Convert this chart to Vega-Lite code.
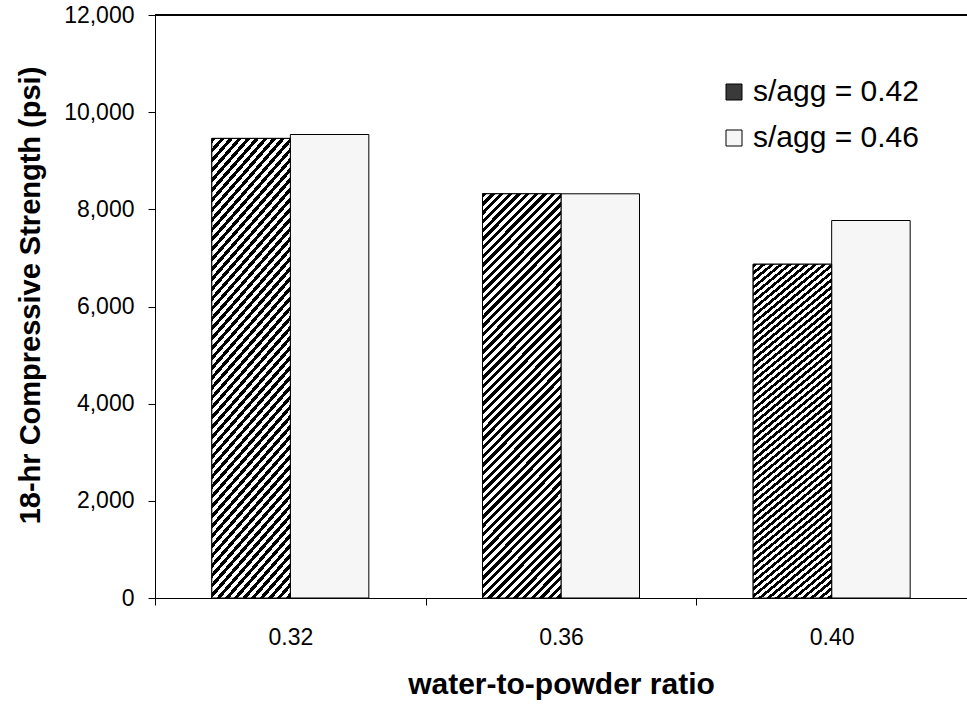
{
  "$schema": "https://vega.github.io/schema/vega-lite/v6.json",
  "width": 812,
  "height": 583,
  "autosize": {"type": "none"},
  "padding": {"left": 155, "top": 15, "right": 0, "bottom": 108},
  "background": "white",
  "config": {"view": {"stroke": null}, "font": "Liberation Sans"},
  "data": {"values": [
    {"ratio": "0.32", "series": "s/agg = 0.42", "strength": 9460},
    {"ratio": "0.32", "series": "s/agg = 0.46", "strength": 9540},
    {"ratio": "0.36", "series": "s/agg = 0.42", "strength": 8320},
    {"ratio": "0.36", "series": "s/agg = 0.46", "strength": 8320},
    {"ratio": "0.40", "series": "s/agg = 0.42", "strength": 6870},
    {"ratio": "0.40", "series": "s/agg = 0.46", "strength": 7770}
  ]},
  "layer": [
    {
      "mark": {"type": "bar", "stroke": "black", "strokeWidth": 1},
      "encoding": {
        "x": {"field": "ratio", "type": "nominal", "scale": {"paddingInner": 0, "paddingOuter": 0},
          "axis": {"title": "water-to-powder ratio", "labelAngle": 0, "tickBand": "extent", "domainColor": "black", "tickColor": "black", "tickSize": 7, "labelFontSize": 23, "labelColor": "black", "labelPadding": 21, "titleFontSize": 30, "titleFontWeight": "bold", "titleColor": "black", "titleBaseline": "alphabetic", "titleY": 95}},
        "xOffset": {"field": "series", "type": "nominal", "scale": {"paddingInner": 0, "paddingOuter": 0.724}},
        "y": {"field": "strength", "type": "quantitative", "scale": {"domain": [0, 12000], "nice": false},
          "axis": {"title": "18-hr Compressive Strength (psi)", "values": [0, 2000, 4000, 6000, 8000, 10000, 12000], "format": ",d", "grid": false, "tickSize": 7, "labelFontSize": 23, "labelPadding": 14, "labelColor": "black", "domainColor": "black", "tickColor": "black", "titleFontSize": 29, "titleFontWeight": "bold", "titleColor": "black", "titleAngle": -90, "titleBaseline": "alphabetic", "titleX": -116, "titleY": 280}},
        "color": {"field": "series", "type": "nominal", "scale": {"range": ["#3a3a3a", "#f6f6f6"]},
          "legend": {"title": null, "orient": "none", "legendX": 564, "legendY": 62, "padding": 0, "symbolType": "square", "symbolSize": 256, "symbolStrokeColor": "black", "symbolStrokeWidth": 1, "symbolOpacity": 1, "labelFontSize": 30, "labelColor": "black", "labelOffset": 4, "rowPadding": 16, "labelLimit": 400}}
      }
    },
    {
      "transform": [{"filter": "datum.series == 's/agg = 0.42'"}],
      "mark": {"type": "bar", "stroke": "black", "strokeWidth": 1,
        "fill": {"gradient": "linear", "x1": 0, "y1": 0, "x2": 0.225, "y2": 1.151, "stops": [
          {"offset": 0, "color": "#000"},
          {"offset": 0.009, "color": "#000"}, {"offset": 0.009, "color": "#fff"},
          {"offset": 0.018, "color": "#fff"}, {"offset": 0.018, "color": "#000"},
          {"offset": 0.027, "color": "#000"}, {"offset": 0.027, "color": "#fff"},
          {"offset": 0.036, "color": "#fff"}, {"offset": 0.036, "color": "#000"},
          {"offset": 0.045, "color": "#000"}, {"offset": 0.045, "color": "#fff"},
          {"offset": 0.054, "color": "#fff"}, {"offset": 0.054, "color": "#000"},
          {"offset": 0.063, "color": "#000"}, {"offset": 0.063, "color": "#fff"},
          {"offset": 0.072, "color": "#fff"}, {"offset": 0.072, "color": "#000"},
          {"offset": 0.081, "color": "#000"}, {"offset": 0.081, "color": "#fff"},
          {"offset": 0.09, "color": "#fff"}, {"offset": 0.09, "color": "#000"},
          {"offset": 0.099, "color": "#000"}, {"offset": 0.099, "color": "#fff"},
          {"offset": 0.108, "color": "#fff"}, {"offset": 0.108, "color": "#000"},
          {"offset": 0.117, "color": "#000"}, {"offset": 0.117, "color": "#fff"},
          {"offset": 0.126, "color": "#fff"}, {"offset": 0.126, "color": "#000"},
          {"offset": 0.135, "color": "#000"}, {"offset": 0.135, "color": "#fff"},
          {"offset": 0.144, "color": "#fff"}, {"offset": 0.144, "color": "#000"},
          {"offset": 0.153, "color": "#000"}, {"offset": 0.153, "color": "#fff"},
          {"offset": 0.162, "color": "#fff"}, {"offset": 0.162, "color": "#000"},
          {"offset": 0.171, "color": "#000"}, {"offset": 0.171, "color": "#fff"},
          {"offset": 0.18, "color": "#fff"}, {"offset": 0.18, "color": "#000"},
          {"offset": 0.189, "color": "#000"}, {"offset": 0.189, "color": "#fff"},
          {"offset": 0.198, "color": "#fff"}, {"offset": 0.198, "color": "#000"},
          {"offset": 0.207, "color": "#000"}, {"offset": 0.207, "color": "#fff"},
          {"offset": 0.216, "color": "#fff"}, {"offset": 0.216, "color": "#000"},
          {"offset": 0.225, "color": "#000"}, {"offset": 0.225, "color": "#fff"},
          {"offset": 0.234, "color": "#fff"}, {"offset": 0.234, "color": "#000"},
          {"offset": 0.243, "color": "#000"}, {"offset": 0.243, "color": "#fff"},
          {"offset": 0.252, "color": "#fff"}, {"offset": 0.252, "color": "#000"},
          {"offset": 0.261, "color": "#000"}, {"offset": 0.261, "color": "#fff"},
          {"offset": 0.27, "color": "#fff"}, {"offset": 0.27, "color": "#000"},
          {"offset": 0.279, "color": "#000"}, {"offset": 0.279, "color": "#fff"},
          {"offset": 0.288, "color": "#fff"}, {"offset": 0.288, "color": "#000"},
          {"offset": 0.297, "color": "#000"}, {"offset": 0.297, "color": "#fff"},
          {"offset": 0.306, "color": "#fff"}, {"offset": 0.306, "color": "#000"},
          {"offset": 0.315, "color": "#000"}, {"offset": 0.315, "color": "#fff"},
          {"offset": 0.324, "color": "#fff"}, {"offset": 0.324, "color": "#000"},
          {"offset": 0.333, "color": "#000"}, {"offset": 0.333, "color": "#fff"},
          {"offset": 0.342, "color": "#fff"}, {"offset": 0.342, "color": "#000"},
          {"offset": 0.351, "color": "#000"}, {"offset": 0.351, "color": "#fff"},
          {"offset": 0.36, "color": "#fff"}, {"offset": 0.36, "color": "#000"},
          {"offset": 0.369, "color": "#000"}, {"offset": 0.369, "color": "#fff"},
          {"offset": 0.378, "color": "#fff"}, {"offset": 0.378, "color": "#000"},
          {"offset": 0.387, "color": "#000"}, {"offset": 0.387, "color": "#fff"},
          {"offset": 0.396, "color": "#fff"}, {"offset": 0.396, "color": "#000"},
          {"offset": 0.405, "color": "#000"}, {"offset": 0.405, "color": "#fff"},
          {"offset": 0.414, "color": "#fff"}, {"offset": 0.414, "color": "#000"},
          {"offset": 0.423, "color": "#000"}, {"offset": 0.423, "color": "#fff"},
          {"offset": 0.432, "color": "#fff"}, {"offset": 0.432, "color": "#000"},
          {"offset": 0.441, "color": "#000"}, {"offset": 0.441, "color": "#fff"},
          {"offset": 0.45, "color": "#fff"}, {"offset": 0.45, "color": "#000"},
          {"offset": 0.459, "color": "#000"}, {"offset": 0.459, "color": "#fff"},
          {"offset": 0.468, "color": "#fff"}, {"offset": 0.468, "color": "#000"},
          {"offset": 0.477, "color": "#000"}, {"offset": 0.477, "color": "#fff"},
          {"offset": 0.486, "color": "#fff"}, {"offset": 0.486, "color": "#000"},
          {"offset": 0.495, "color": "#000"}, {"offset": 0.495, "color": "#fff"},
          {"offset": 0.504, "color": "#fff"}, {"offset": 0.504, "color": "#000"},
          {"offset": 0.513, "color": "#000"}, {"offset": 0.513, "color": "#fff"},
          {"offset": 0.522, "color": "#fff"}, {"offset": 0.522, "color": "#000"},
          {"offset": 0.531, "color": "#000"}, {"offset": 0.531, "color": "#fff"},
          {"offset": 0.54, "color": "#fff"}, {"offset": 0.54, "color": "#000"},
          {"offset": 0.549, "color": "#000"}, {"offset": 0.549, "color": "#fff"},
          {"offset": 0.558, "color": "#fff"}, {"offset": 0.558, "color": "#000"},
          {"offset": 0.567, "color": "#000"}, {"offset": 0.567, "color": "#fff"},
          {"offset": 0.576, "color": "#fff"}, {"offset": 0.576, "color": "#000"},
          {"offset": 0.585, "color": "#000"}, {"offset": 0.585, "color": "#fff"},
          {"offset": 0.594, "color": "#fff"}, {"offset": 0.594, "color": "#000"},
          {"offset": 0.603, "color": "#000"}, {"offset": 0.603, "color": "#fff"},
          {"offset": 0.612, "color": "#fff"}, {"offset": 0.612, "color": "#000"},
          {"offset": 0.621, "color": "#000"}, {"offset": 0.621, "color": "#fff"},
          {"offset": 0.63, "color": "#fff"}, {"offset": 0.63, "color": "#000"},
          {"offset": 0.639, "color": "#000"}, {"offset": 0.639, "color": "#fff"},
          {"offset": 0.648, "color": "#fff"}, {"offset": 0.648, "color": "#000"},
          {"offset": 0.657, "color": "#000"}, {"offset": 0.657, "color": "#fff"},
          {"offset": 0.666, "color": "#fff"}, {"offset": 0.666, "color": "#000"},
          {"offset": 0.675, "color": "#000"}, {"offset": 0.675, "color": "#fff"},
          {"offset": 0.684, "color": "#fff"}, {"offset": 0.684, "color": "#000"},
          {"offset": 0.693, "color": "#000"}, {"offset": 0.693, "color": "#fff"},
          {"offset": 0.702, "color": "#fff"}, {"offset": 0.702, "color": "#000"},
          {"offset": 0.711, "color": "#000"}, {"offset": 0.711, "color": "#fff"},
          {"offset": 0.72, "color": "#fff"}, {"offset": 0.72, "color": "#000"},
          {"offset": 0.729, "color": "#000"}, {"offset": 0.729, "color": "#fff"},
          {"offset": 0.738, "color": "#fff"}, {"offset": 0.738, "color": "#000"},
          {"offset": 0.747, "color": "#000"}, {"offset": 0.747, "color": "#fff"},
          {"offset": 0.756, "color": "#fff"}, {"offset": 0.756, "color": "#000"},
          {"offset": 0.765, "color": "#000"}, {"offset": 0.765, "color": "#fff"},
          {"offset": 0.774, "color": "#fff"}, {"offset": 0.774, "color": "#000"},
          {"offset": 0.783, "color": "#000"}, {"offset": 0.783, "color": "#fff"},
          {"offset": 0.792, "color": "#fff"}, {"offset": 0.792, "color": "#000"},
          {"offset": 0.801, "color": "#000"}, {"offset": 0.801, "color": "#fff"},
          {"offset": 0.81, "color": "#fff"}, {"offset": 0.81, "color": "#000"},
          {"offset": 0.819, "color": "#000"}, {"offset": 0.819, "color": "#fff"},
          {"offset": 0.828, "color": "#fff"}, {"offset": 0.828, "color": "#000"},
          {"offset": 0.837, "color": "#000"}, {"offset": 0.837, "color": "#fff"},
          {"offset": 0.846, "color": "#fff"}, {"offset": 0.846, "color": "#000"},
          {"offset": 0.855, "color": "#000"}, {"offset": 0.855, "color": "#fff"},
          {"offset": 0.864, "color": "#fff"}, {"offset": 0.864, "color": "#000"},
          {"offset": 0.873, "color": "#000"}, {"offset": 0.873, "color": "#fff"},
          {"offset": 0.882, "color": "#fff"}, {"offset": 0.882, "color": "#000"},
          {"offset": 0.891, "color": "#000"}, {"offset": 0.891, "color": "#fff"},
          {"offset": 0.9, "color": "#fff"}, {"offset": 0.9, "color": "#000"},
          {"offset": 0.909, "color": "#000"}, {"offset": 0.909, "color": "#fff"},
          {"offset": 0.918, "color": "#fff"}, {"offset": 0.918, "color": "#000"},
          {"offset": 0.927, "color": "#000"}, {"offset": 0.927, "color": "#fff"},
          {"offset": 0.936, "color": "#fff"}, {"offset": 0.936, "color": "#000"},
          {"offset": 0.945, "color": "#000"}, {"offset": 0.945, "color": "#fff"},
          {"offset": 0.954, "color": "#fff"}, {"offset": 0.954, "color": "#000"},
          {"offset": 0.963, "color": "#000"}, {"offset": 0.963, "color": "#fff"},
          {"offset": 0.972, "color": "#fff"}, {"offset": 0.972, "color": "#000"},
          {"offset": 0.981, "color": "#000"}, {"offset": 0.981, "color": "#fff"},
          {"offset": 0.99, "color": "#fff"}, {"offset": 0.99, "color": "#000"},
          {"offset": 0.999, "color": "#000"}, {"offset": 0.999, "color": "#fff"},
          {"offset": 1, "color": "#fff"}
        ]}},
      "encoding": {
        "x": {"field": "ratio", "type": "nominal"},
        "xOffset": {"field": "series", "type": "nominal"},
        "y": {"field": "strength", "type": "quantitative"}
      }
    },
    {
      "mark": {"type": "rule", "color": "black", "strokeWidth": 1},
      "encoding": {"y": {"datum": 12000, "type": "quantitative"}}
    }
  ]
}
